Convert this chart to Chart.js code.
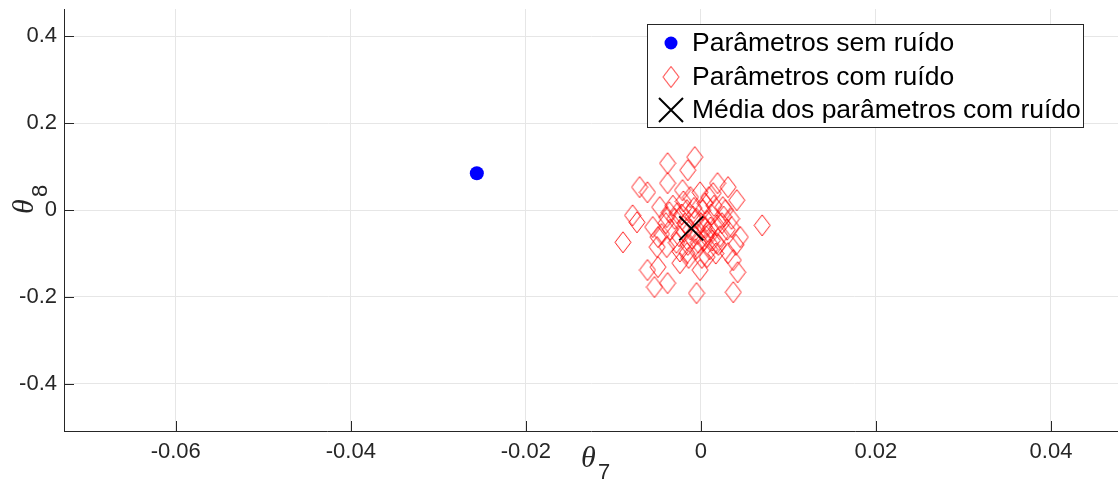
<!DOCTYPE html>
<html>
<head>
<meta charset="utf-8">
<script src="https://cdn.jsdelivr.net/npm/chart.js@4/dist/chart.umd.min.js"></script>
<style>
  html, body { margin: 0; padding: 0; background: #fff; overflow: hidden; }
  #chart { display: block; }
</style>
</head>
<body>
<canvas id="chart" width="1118" height="479"></canvas>
<script>
// Parameter without noise
var cleanX = [-0.0256];
var cleanY = [0.085];

// Mean of the noisy parameters
var meanX = [-0.0011];
var meanY = [-0.042];

// Noisy parameters
var noisyX = [
  -0.0038, -0.0007, -0.0015, -0.0070, -0.0061, -0.0038, 0.0019, 0.0031, 0.0041, 0.0070,
  -0.0078, -0.0073, -0.0089, -0.0055, -0.0049, -0.0061, -0.0049, -0.0053, -0.0038, -0.0005,
  0.0037, 0.0042, 0.0037, 0.0031, 0.0045, 0.0035, 0.0025, 0.0014, -0.0001, -0.0021,
  -0.0047, -0.0039, -0.0027, -0.0016, 0.0007, -0.0001, -0.0024, 0.0018, -0.0039, -0.0050,
  -0.0005, 0.0008, -0.0018, 0.0012, -0.0025, 0.0003, -0.0012, 0.0018, -0.0008, 0.0022,
  -0.0030, 0.0005, -0.0015, 0.0010, -0.0020, 0.0015, -0.0004, 0.0026, -0.0035, 0.0000,
  -0.0010, 0.0007, -0.0022, 0.0030, -0.0028, 0.0013, -0.0006, 0.0004, -0.0016, 0.0020,
  -0.0040, 0.0009, -0.0012, 0.0035, -0.0032, 0.0001, -0.0024, 0.0017, -0.0045, 0.0028,
  -0.0009, 0.0006, -0.0019, 0.0011, -0.0003, 0.0024, -0.0036, 0.0040, -0.0014, 0.0002
];
var noisyY = [
  0.108, 0.122, 0.092, 0.053, 0.041, 0.062, 0.062, 0.053, 0.023, -0.035,
  -0.012, -0.028, -0.074, -0.039, -0.062, -0.138, -0.131, -0.177, -0.168, -0.191,
  -0.189, -0.143, -0.115, -0.099, -0.062, -0.039, 0.007, 0.039, 0.041, 0.046,
  0.007, -0.016, -0.007, -0.099, -0.108, -0.138, -0.122, -0.076, -0.085, -0.085,
  -0.020, -0.050, -0.030, -0.010, -0.060, -0.070, -0.045, -0.035, 0.005, -0.060,
  -0.020, 0.015, -0.080, -0.090, 0.020, 0.010, -0.055, -0.015, -0.045, -0.030,
  -0.065, -0.025, -0.010, -0.045, -0.075, -0.070, -0.090, -0.040, 0.000, -0.080,
  -0.030, 0.030, 0.030, -0.020, 0.010, -0.110, -0.095, -0.100, -0.055, 0.000,
  -0.015, -0.060, -0.050, -0.040, -0.075, -0.030, -0.005, -0.080, -0.110, 0.000
];

var xTicks = [-0.06, -0.04, -0.02, 0, 0.02, 0.04];
var yTicks = [-0.4, -0.2, 0, 0.2, 0.4];

var legendLabels = ['Parâmetros sem ruído', 'Parâmetros com ruído', 'Média dos parâmetros com ruído'];

function toPoints(xs, ys) {
  return xs.map(function (x, i) { return { x: x, y: ys[i] }; });
}

// MATLAB style diamond (a bit taller than wide)
function makeDiamond(w, h, color) {
  var c = document.createElement('canvas');
  c.width = w + 2;
  c.height = h + 2;
  var g = c.getContext('2d');
  g.strokeStyle = color;
  g.lineWidth = 1;
  g.beginPath();
  g.moveTo(c.width / 2, 1);
  g.lineTo(c.width - 1, c.height / 2);
  g.lineTo(c.width / 2, c.height - 1);
  g.lineTo(1, c.height / 2);
  g.closePath();
  g.stroke();
  return c;
}
var diamond = makeDiamond(16, 21, 'rgba(255,0,0,0.9)');

var axisColor = '#262626';

function fmt(v) {
  return (+v.toFixed(3)).toString();
}

function noPad(s) {
  s.paddingTop = 0;
  s.paddingBottom = 0;
  s.paddingLeft = 0;
  s.paddingRight = 0;
}

// inward tick marks, axis titles with subscripts, legend box
var extras = {
  id: 'extras',
  afterDraw: function (chart) {
    var ctx = chart.ctx;
    var a = chart.chartArea;
    var xs = chart.scales.x, ys = chart.scales.y;
    ctx.save();
    ctx.strokeStyle = axisColor;
    ctx.lineWidth = 1;
    ctx.beginPath();
    xTicks.forEach(function (t) {
      var px = Math.round(xs.getPixelForValue(t)) + 0.5;
      ctx.moveTo(px, a.bottom);
      ctx.lineTo(px, a.bottom - 10);
    });
    yTicks.forEach(function (t) {
      var py = Math.round(ys.getPixelForValue(t)) + 0.5;
      ctx.moveTo(a.left, py);
      ctx.lineTo(a.left + 10, py);
    });
    ctx.stroke();

    // x title: theta_7
    ctx.fillStyle = axisColor;
    ctx.textBaseline = 'alphabetic';
    ctx.textAlign = 'left';
    ctx.font = 'italic 30px "Liberation Serif"';
    ctx.fillText('\u03b8', 581, 467);
    ctx.font = '22px "Liberation Sans"';
    ctx.fillText('7', 598, 479);

    // y title: theta_8, rotated
    ctx.save();
    ctx.translate(33, 214);
    ctx.rotate(-Math.PI / 2);
    ctx.font = 'italic 30px "Liberation Serif"';
    ctx.fillText('\u03b8', 0, 0);
    ctx.font = '22px "Liberation Sans"';
    ctx.fillText('8', 17, 14);
    ctx.restore();

    // legend
    var lx = 647.5, ly = 24.5, lw = 436, lh = 103;
    ctx.fillStyle = '#fff';
    ctx.fillRect(lx, ly, lw, lh);
    ctx.strokeStyle = axisColor;
    ctx.lineWidth = 1;
    ctx.strokeRect(lx, ly, lw, lh);
    var rows = [43, 77, 110];
    var mx = 671;
    // blue dot
    ctx.fillStyle = '#0000ff';
    ctx.beginPath();
    ctx.arc(mx, rows[0], 6.5, 0, Math.PI * 2);
    ctx.fill();
    // diamond
    ctx.drawImage(diamond, mx - diamond.width / 2, rows[1] - diamond.height / 2);
    // cross
    ctx.strokeStyle = '#000';
    ctx.lineWidth = 2;
    ctx.beginPath();
    ctx.moveTo(mx - 12, rows[2] - 12); ctx.lineTo(mx + 12, rows[2] + 12);
    ctx.moveTo(mx + 12, rows[2] - 12); ctx.lineTo(mx - 12, rows[2] + 12);
    ctx.stroke();
    ctx.fillStyle = '#000';
    ctx.font = '26.5px "Liberation Sans"';
    ctx.textBaseline = 'middle';
    legendLabels.forEach(function (t, i) {
      ctx.fillText(t, 692, rows[i] + 1);
    });
    ctx.restore();
  }
};

var tickFont = { family: '"Liberation Sans", Arial, sans-serif', size: 22 };

new Chart(document.getElementById('chart').getContext('2d'), {
  type: 'scatter',
  data: {
    datasets: [
      {
        label: legendLabels[0],
        data: toPoints(cleanX, cleanY),
        pointStyle: 'circle',
        pointRadius: 7,
        backgroundColor: '#0000ff',
        borderColor: '#0000ff',
        borderWidth: 0,
        order: 3
      },
      {
        label: legendLabels[1],
        data: toPoints(noisyX, noisyY),
        pointStyle: diamond,
        pointRadius: 10,
        order: 2
      },
      {
        label: legendLabels[2],
        data: toPoints(meanX, meanY),
        pointStyle: 'crossRot',
        pointRadius: 17,
        borderColor: '#000',
        borderWidth: 2,
        order: 1
      }
    ]
  },
  options: {
    responsive: false,
    animation: false,
    devicePixelRatio: 1,
    layout: { autoPadding: false, padding: { top: 9, right: 0, left: 0, bottom: 0 } },
    plugins: {
      legend: { display: false },
      tooltip: { enabled: false }
    },
    scales: {
      x: {
        type: 'linear',
        min: -0.07277,
        max: 0.04766,
        afterFit: function (s) { s.height = 48; noPad(s); },
        afterBuildTicks: function (s) { s.ticks = xTicks.map(function (v) { return { value: v }; }); },
        ticks: {
          includeBounds: false,
          color: axisColor,
          font: tickFont,
          padding: 8,
          maxRotation: 0,
          callback: function (v) { return fmt(v); }
        },
        grid: { color: '#e6e6e6', drawTicks: false },
        border: { display: true, color: axisColor, width: 1 }
      },
      y: {
        type: 'linear',
        min: -0.5085,
        max: 0.463,
        afterFit: function (s) { s.width = 64; noPad(s); },
        afterBuildTicks: function (s) { s.ticks = yTicks.map(function (v) { return { value: v }; }); },
        ticks: {
          includeBounds: false,
          color: axisColor,
          font: tickFont,
          padding: 7,
          callback: function (v) { return fmt(v); }
        },
        grid: { color: '#e6e6e6', drawTicks: false },
        border: { display: true, color: axisColor, width: 1 }
      }
    }
  },
  plugins: [extras]
});
</script>
</body>
</html>
